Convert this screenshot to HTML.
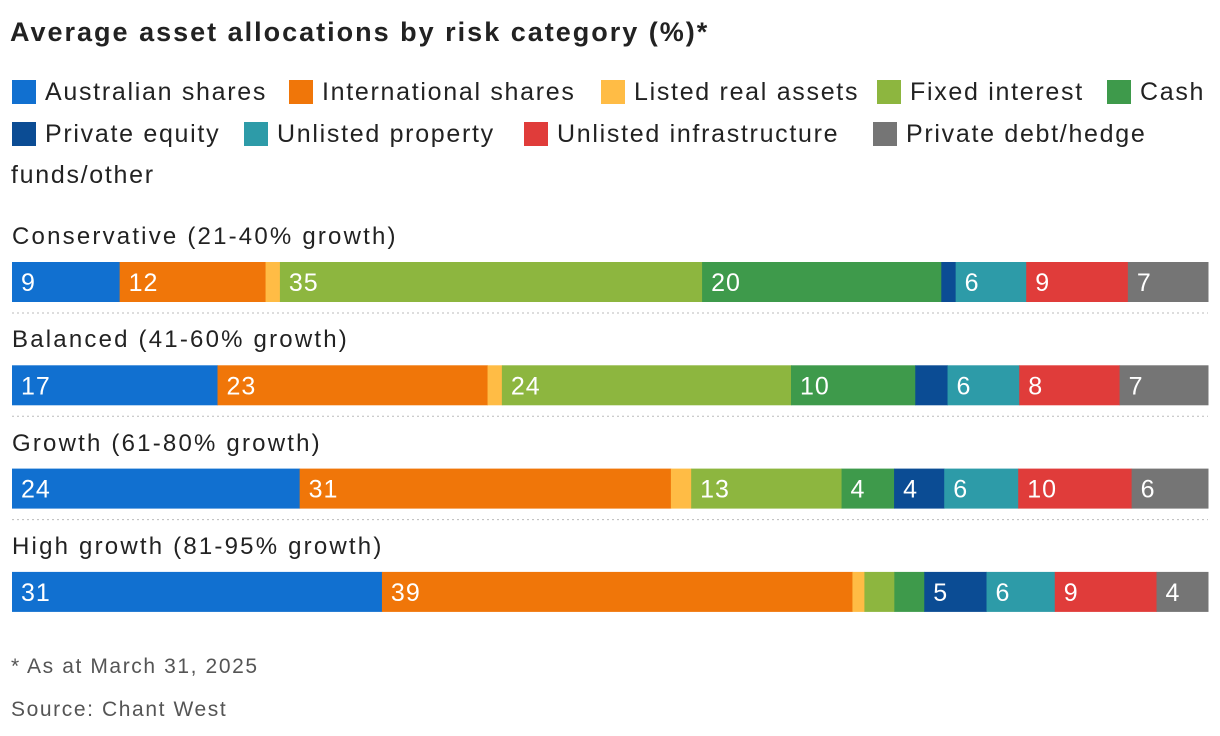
<!DOCTYPE html>
<html><head><meta charset="utf-8">
<style>
body{margin:0;width:1220px;height:736px;background:#fff;font-family:"Liberation Sans",sans-serif;color:#121212;position:relative;overflow:hidden}
.abs{position:absolute;white-space:nowrap}
.title{left:10px;top:17px;font-size:27px;font-weight:bold;color:#222;letter-spacing:2px}
.leg{font-size:25px;color:#222;letter-spacing:1.7px}
.sw{position:absolute;width:24px;height:24px}
.cat{font-size:24px;color:#222;letter-spacing:2.2px}
.foot{font-size:21px;color:#555;letter-spacing:1.6px}
</style></head><body>
<div class="abs title">Average asset allocations by risk category (%)*</div>
<div id="legend"></div>
<svg id="chart" width="1220" height="736" style="position:absolute;left:0;top:0"></svg>
<div class="abs foot" style="left:11px;top:655px">* As at March 31, 2025</div>
<div class="abs foot" style="left:11px;top:698px">Source: Chant West</div>
<script>
const seriesNames=["Australian shares","International shares","Listed real assets","Fixed interest","Cash","Private equity","Unlisted property","Unlisted infrastructure","Private debt/hedge funds/other"];
const colors=["#1170d0","#f07609","#ffbc45","#8db63f","#3e9a4b","#0b4c94","#2d9ba8","#e03c3a","#757575"];
const categories=["Conservative (21-40% growth)","Balanced (41-60% growth)","Growth (61-80% growth)","High growth (81-95% growth)"];
const conservative=[9,12.2,1.2,35.3,20,1.2,5.9,8.5,6.7];
const balanced=[17.2,22.6,1.2,24.2,10.4,2.7,6,8.4,7.4];
const growth=[24.1,31.1,1.7,12.6,4.4,4.2,6.2,9.5,6.4];
const highGrowth=[30.9,39.3,1,2.5,2.5,5.2,5.7,8.5,4.3];
const rows=[conservative,balanced,growth,highGrowth];

// legend
const legPos=[[12,92],[289,92],[601,92],[877,92],[1107,92],[12,134],[244,134],[524,134],[873,134]];
const leg=document.getElementById('legend');
seriesNames.forEach((n,i)=>{
  const [x,y]=legPos[i];
  const s=document.createElement('div');
  s.className='sw';s.style.left=x+'px';s.style.top=(y-12)+'px';s.style.background=colors[i];
  
  
  leg.appendChild(s);
  const t=document.createElement('div');
  t.className='abs leg';t.style.left=(x+33)+'px';t.style.top=(y-14)+'px';
  
  
  if(i===8){t.textContent='Private debt/hedge';}else t.textContent=n;
  leg.appendChild(t);
});
const t2=document.createElement('div');
t2.className='abs leg';t2.style.left='11px';t2.style.top='161px';t2.textContent='funds/other';


leg.appendChild(t2);

// bars
const svg=document.getElementById('chart');const NS='http://www.w3.org/2000/svg';
const X0=12,W=1196;
const rowY=i=>262+i*103.3;
categories.forEach((c,i)=>{
  const y=rowY(i);
  const lab=document.createElement('div');
  lab.className='abs cat';lab.style.left='12px';lab.style.top=(y-39)+'px';lab.textContent=c;
  
  
  document.body.appendChild(lab);
  const vals=rows[i];const tot=vals.reduce((a,b)=>a+b,0);
  let acc=0;
  vals.forEach((v,j)=>{
    const x=X0+acc/tot*W, w=v/tot*W; acc+=v;
    const r=document.createElementNS(NS,'rect');
    r.setAttribute('x',x);r.setAttribute('y',y);r.setAttribute('width',w+0.5);r.setAttribute('height',40);r.setAttribute('fill',colors[j]);
    
    
    svg.appendChild(r);
    if(v>=3.5){
      const t=document.createElementNS(NS,'text');
      t.setAttribute('x',x+9);t.setAttribute('y',y+29);t.setAttribute('fill','#fff');t.setAttribute('font-size','25');
      t.setAttribute('letter-spacing','1');
      t.setAttribute('font-family','Liberation Sans, sans-serif');t.textContent=Math.round(v);
      
      
      svg.appendChild(t);
    }
  });
  if(i<categories.length-1){
    const l=document.createElementNS(NS,'line');
    l.setAttribute('x1',X0);l.setAttribute('x2',X0+W);l.setAttribute('y1',y+51);l.setAttribute('y2',y+51);
    l.setAttribute('stroke','#bbb');l.setAttribute('stroke-dasharray','2,3');
    
    
    svg.appendChild(l);
  }
});
</script>
</body></html>
